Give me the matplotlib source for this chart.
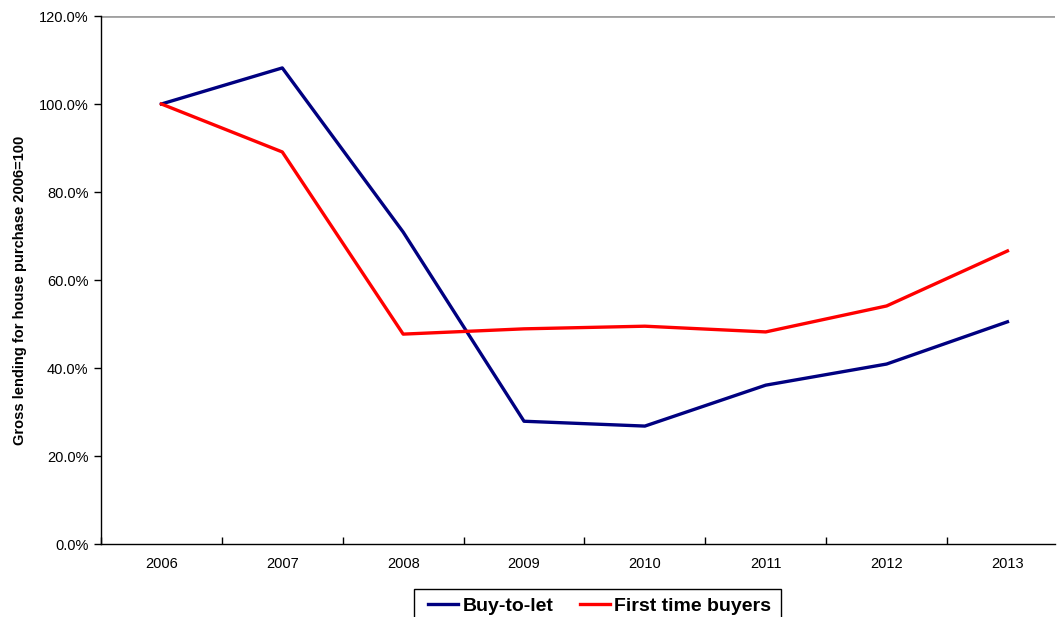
import matplotlib
matplotlib.use("Agg")
import matplotlib.pyplot as plt
from matplotlib.ticker import FixedLocator, NullFormatter
from matplotlib.patches import Rectangle

plt.rcParams['font.family'] = ['Liberation Sans', 'DejaVu Sans']

years = ['2006', '2007', '2008', '2009', '2010', '2011', '2012', '2013']
buy_to_let = [100.0, 108.2, 70.9, 27.9, 26.8, 36.1, 40.9, 50.5]
first_time_buyers = [100.0, 89.1, 47.7, 48.9, 49.5, 48.2, 54.1, 66.6]
y_ticks = [0, 20, 40, 60, 80, 100, 120]

W, H = 1057, 617
fig = plt.figure(figsize=(W / 100, H / 100), dpi=100)
ax = fig.add_axes([101 / W, (H - 544) / H, (1055 - 101) / W, (544 - 16) / H])

x = list(range(len(years)))
ax.plot(x, buy_to_let, color='#000080', lw=2.4, label='Buy-to-let')
ax.plot(x, first_time_buyers, color='#FF0000', lw=2.4, label='First time buyers')

cat_px = 120.86
ax.set_xlim(-0.5, -0.5 + (1055 - 101) / cat_px)
ax.set_ylim(0, 120)
ax.set_yticks(y_ticks)
ax.set_yticklabels([f'{v:.1f}%' for v in y_ticks], fontsize=10.5)
ax.set_xticks(x)
ax.set_xticklabels(years, fontsize=10.5)
ax.tick_params(axis='x', which='major', length=0, pad=9)
ax.xaxis.set_minor_locator(FixedLocator([i - 0.5 for i in range(len(years))]))
ax.xaxis.set_minor_formatter(NullFormatter())
ax.tick_params(axis='x', which='minor', length=5, direction='in', width=1)
ax.tick_params(axis='y', which='major', length=5, direction='out', width=1, pad=4)

ax.axhline(120, color='#A0A0A0', lw=2, zorder=0)
ax.spines['top'].set_visible(False)
ax.spines['right'].set_visible(False)
for s in ['left', 'bottom']:
    ax.spines[s].set_color('black')
    ax.spines[s].set_linewidth(1)

ax.set_ylabel('Gross lending for house purchase 2006=100', fontsize=10.5,
              fontweight='bold')
ax.yaxis.set_label_coords((27 - 101) / 954, (544 - 290) / 528)

leg = fig.legend(loc='center left', bbox_to_anchor=(428 / W, (H - 606) / H), ncol=2,
                 prop={'weight': 'bold', 'size': 14}, frameon=False,
                 handlelength=1.55, columnspacing=1.35,
                 borderpad=0, handletextpad=0.22, borderaxespad=0)

box = Rectangle((414 / W, (H - 630) / H), (781 - 414) / W, (630 - 589) / H,
                transform=fig.transFigure, facecolor='none', edgecolor='black',
                lw=1, clip_on=False)
fig.patches.append(box)

fig.savefig('out.png', dpi=100)
